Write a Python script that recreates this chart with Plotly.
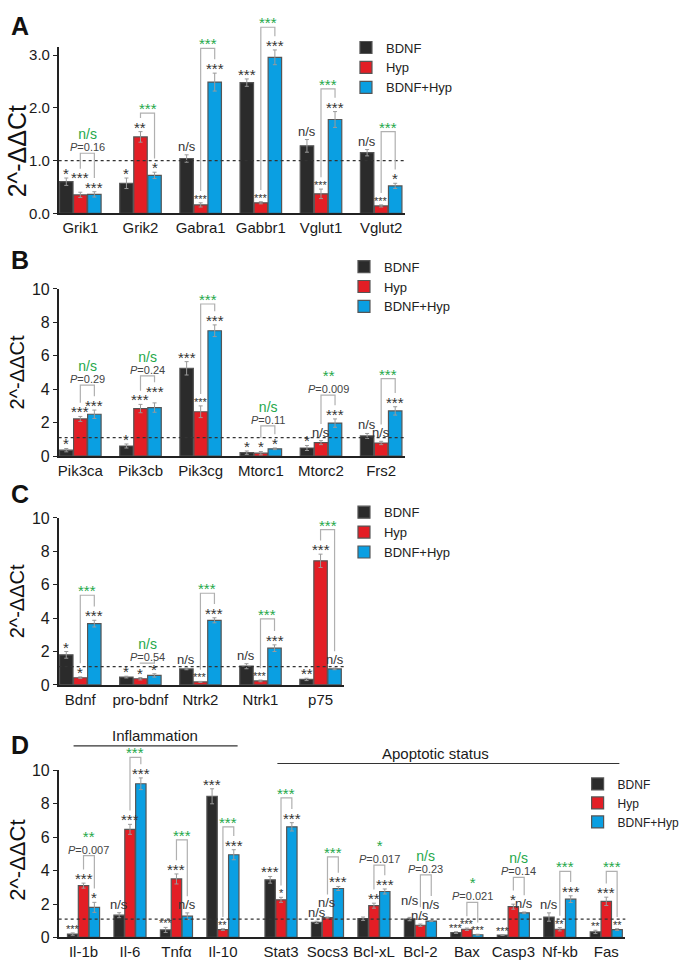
import plotly.graph_objects as go

W, H = 685, 970

# ---------------- data ----------------
series = ['BDNF', 'Hyp', 'BDNF+Hyp']

# A
genes_a = ['Grik1', 'Grik2', 'Gabra1', 'Gabbr1', 'Vglut1', 'Vglut2']
bdnf_a = [0.60, 0.57, 1.04, 2.48, 1.28, 1.15]
hyp_a = [0.35, 1.45, 0.16, 0.20, 0.37, 0.14]
both_a = [0.36, 0.72, 2.49, 2.96, 1.78, 0.52]
bdnf_a_err = [0.07, 0.10, 0.07, 0.07, 0.12, 0.06]
hyp_a_err = [0.05, 0.10, 0.04, 0.02, 0.09, 0.02]
both_a_err = [0.05, 0.06, 0.17, 0.14, 0.15, 0.05]
stars_a = [['*', '***', '***'], ['*', '**', '*'], ['n/s', '~***', '***'],
           ['***', '~***', '***'], ['n/s', '~***', '***'], ['n/s', '~***', '*']]
cmp_a = [('n/s', 'P=0.16'), ('***', ''), ('***', ''), ('***', ''), ('***', ''), ('***', '')]
bracket_a = [1.14, 1.90, 3.13, 3.53, 2.36, 1.55]

# B
genes_b = ['Pik3ca', 'Pik3cb', 'Pik3cg', 'Mtorc1', 'Mtorc2', 'Frs2']
bdnf_b = [0.35, 0.60, 5.25, 0.20, 0.48, 1.20]
hyp_b = [2.22, 2.84, 2.65, 0.17, 0.80, 0.78]
both_b = [2.50, 2.90, 7.50, 0.43, 1.97, 2.70]
bdnf_b_err = [0.10, 0.12, 0.40, 0.10, 0.15, 0.15]
hyp_b_err = [0.15, 0.25, 0.35, 0.10, 0.12, 0.10]
both_b_err = [0.25, 0.28, 0.35, 0.05, 0.25, 0.25]
stars_b = [['*', '***', '***'], ['*', '***', '***'], ['***', '~***', '***'],
           ['*', '*', '*'], ['*', 'n/s', '***'], ['n/s', 'n/s', '***']]
cmp_b = [('n/s', 'P=0.29'), ('n/s', 'P=0.24'), ('***', ''), ('n/s', 'P=0.11'),
         ('**', 'P=0.009'), ('***', '')]
bracket_b = [4.24, 4.80, 9.10, 1.80, 3.65, 4.63]

# C
genes_c = ['Bdnf', 'pro-bdnf', 'Ntrk2', 'Ntrk1', 'p75']
bdnf_c = [1.80, 0.47, 0.96, 1.12, 0.33]
hyp_c = [0.43, 0.37, 0.18, 0.24, 7.43]
both_c = [3.67, 0.57, 3.87, 2.20, 0.96]
bdnf_c_err = [0.20, 0.05, 0.05, 0.15, 0.07]
hyp_c_err = [0.05, 0.07, 0.03, 0.05, 0.40]
both_c_err = [0.20, 0.10, 0.15, 0.20, 0.05]
stars_c = [['*', '*', '***'], ['*', '*', '*'], ['n/s', '~***', '***'],
           ['n/s', '~***', '***'], ['**', '***', 'n/s']]
cmp_c = [('***', ''), ('n/s', 'P=0.54'), ('***', ''), ('***', ''), ('***', '')]
bracket_c = [5.37, 1.31, 5.49, 3.96, 9.30]

# D
genes_d = ['Il-1b', 'Il-6', 'Tnfα', 'Il-10', 'Stat3', 'Socs3', 'Bcl-xL', 'Bcl-2',
           'Bax', 'Casp3', 'Nf-kb', 'Fas']
bdnf_d = [0.20, 1.33, 0.45, 8.45, 3.45, 0.90, 1.12, 1.10, 0.29, 0.14, 1.22, 0.33]
hyp_d = [3.10, 6.47, 3.50, 0.47, 2.25, 1.19, 1.90, 0.73, 0.49, 1.84, 0.49, 2.16]
both_d = [1.80, 9.20, 1.27, 4.95, 6.62, 2.93, 2.75, 0.98, 0.16, 1.47, 2.29, 0.47]
bdnf_d_err = [0.07, 0.15, 0.15, 0.45, 0.20, 0.07, 0.10, 0.10, 0.05, 0.02, 0.25, 0.10]
hyp_d_err = [0.15, 0.30, 0.30, 0.05, 0.15, 0.03, 0.15, 0.07, 0.07, 0.15, 0.10, 0.25]
both_d_err = [0.30, 0.35, 0.20, 0.30, 0.25, 0.12, 0.15, 0.03, 0.03, 0.05, 0.20, 0.05]
stars_d = [['~***', '***', '*'], ['n/s', '***', '***'], ['~***', '***', 'n/s'],
           ['***', '~**', '***'], ['***', '~*', '***'], ['n/s', 'n/s', '***'],
           ['', '**', '***'], ['n/s', 'n/s', 'n/s'], ['~***', '~***', '~***'],
           ['~***', '*', 'n/s'], ['n/s', '~**', '***'], ['~**', '***', '~**']]
cmp_d = [('**', 'P=0.007'), ('***', ''), ('***', ''), ('***', ''), ('***', ''), ('***', ''),
         ('*', 'P=0.017'), ('n/s', 'P=0.23'), ('*', 'P=0.021'), ('n/s', 'P=0.14'),
         ('***', ''), ('***', '')]
bracket_d = [4.90, 10.78, 5.84, 6.62, 8.35, 4.82, 4.33, 3.75, 2.10, 3.59, 3.96, 3.96]

# ---------------- style ----------------
FONT = 'Liberation Sans, Arial, sans-serif'
COLORS = ['#2b2b2b', '#e31e25', '#0a9fe2']
GREEN = '#25a84b'
BARGAP = 0.3
SLOT = (1 - BARGAP) / 3

panels = [
    dict(letter='A', genes=genes_a, pos=list(range(6)),
         vals=[bdnf_a, hyp_a, both_a], errs=[bdnf_a_err, hyp_a_err, both_a_err],
         stars=stars_a, cmp=cmp_a, br=bracket_a,
         xpx=(58, 406), xr=(-0.36, 5.39), ypx=(209, 40), ymax=3.15,
         ticks=[0, 1, 2, 3], fmt='.1f', ref=1.0, tick_size=15,
         title_y=146, title_size=25, letter_y=18, lift={(0, 1): 10},
         legend=dict(x=347 / W, y=1 - 25 / H), legend_size=13),
    dict(letter='B', genes=genes_b, pos=list(range(6)),
         vals=[bdnf_b, hyp_b, both_b], errs=[bdnf_b_err, hyp_b_err, both_b_err],
         stars=stars_b, cmp=cmp_b, br=bracket_b,
         xpx=(58, 406), xr=(-0.36, 5.39), ypx=(456, 286), ymax=10,
         ticks=[0, 2, 4, 6, 8, 10], fmt='d', ref=1.1, tick_size=16,
         title_y=371, title_size=20, letter_y=257, lift={(1, 2): 7},
         legend=dict(x=345 / W, y=1 - 248 / H), legend_size=13),
    dict(letter='C', genes=genes_c, pos=list(range(5)),
         vals=[bdnf_c, hyp_c, both_c], errs=[bdnf_c_err, hyp_c_err, both_c_err],
         stars=stars_c, cmp=cmp_c, br=bracket_c,
         xpx=(58, 345), xr=(-0.36, 4.39), ypx=(689, 519), ymax=10,
         ticks=[0, 2, 4, 6, 8, 10], fmt='d', ref=1.1, tick_size=16,
         title_y=604, title_size=20, letter_y=495,
         legend=dict(x=345 / W, y=1 - 498 / H), legend_size=13),
    dict(letter='D', genes=genes_d, pos=[i + (0.25 if i >= 4 else 0) for i in range(12)],
         vals=[bdnf_d, hyp_d, both_d], errs=[bdnf_d_err, hyp_d_err, both_d_err],
         stars=stars_d, cmp=cmp_d, br=bracket_d,
         xpx=(58, 628), xr=(-0.535, 11.66), ypx=(946, 776), ymax=10,
         ticks=[0, 2, 4, 6, 8, 10], fmt='d', ref=1.1, tick_size=16,
         title_y=867, title_size=22, letter_y=750,
         lift={(7, 0): 8, (7, 2): 8, (5, 1): 6},
         legend=dict(x=580 / W, y=1 - 775 / H), legend_size=12),
]


def paper(p, x, y):
    (xa0, xa1), (r0, r1) = p['xpx'], p['xr']
    yb, yt = p['ypx']
    xp = xa0 + (x - r0) / (r1 - r0) * (xa1 - xa0)
    yp = yb - y / p['ymax'] * (yb - yt)
    return xp / W, 1 - yp / H


def label_style(txt):
    # text, font size, yshift, px from bar top to top of label
    if txt.startswith('~'):
        return txt[1:], 11, -4, 10
    if txt == 'n/s':
        return txt, 13, -1, 15
    return txt, 15, -6, 12


def note(x, y, text, size, color, **kw):
    d = dict(x=x, y=y, xref='paper', yref='paper', text=text, showarrow=False,
             xanchor='center', yanchor='middle',
             font=dict(size=size, color=color, family=FONT))
    d.update(kw)
    return d


fig = go.Figure()
annotations = []
shapes = []
layout = {}

for i, p in enumerate(panels):
    n = '' if i == 0 else str(i + 1)
    leg = 'legend' + n
    for k, name in enumerate(series):
        fig.add_trace(go.Bar(
            x=p['pos'], y=p['vals'][k], name=name,
            xaxis='x' + n, yaxis='y' + n, legend=leg,
            marker=dict(color=COLORS[k], line=dict(color='#555555', width=1.2)),
            error_y=dict(type='data', array=p['errs'][k], color='#9a9a9a',
                         thickness=1, width=2),
        ))

    layout['xaxis' + n] = dict(
        domain=[p['xpx'][0] / W, p['xpx'][1] / W], range=list(p['xr']),
        anchor='y' + n, tickvals=p['pos'], ticktext=p['genes'], ticks='',
        showline=True, linecolor='#222222', linewidth=1.5, showgrid=False,
        zeroline=False, tickfont=dict(size=15, color='#1a1a1a', family=FONT),
    )
    layout['yaxis' + n] = dict(
        domain=[1 - p['ypx'][0] / H, 1 - p['ypx'][1] / H], range=[0, p['ymax']],
        anchor='x' + n, tickvals=p['ticks'], tickformat=p['fmt'], ticks='outside',
        ticklen=4, tickwidth=1.2, tickcolor='#222222',
        showline=True, linecolor='#222222', linewidth=1.5, showgrid=False,
        zeroline=False, tickfont=dict(size=p['tick_size'], color='#1a1a1a', family=FONT),
    )
    layout[leg] = dict(
        x=p['legend']['x'], y=p['legend']['y'], xanchor='left',
        yanchor='top', bgcolor='rgba(0,0,0,0)', tracegroupgap=0,
        font=dict(size=p['legend_size'], color='#222222', family=FONT),
    )

    # dotted reference line
    y_ref = paper(p, 0, p['ref'])[1]
    shapes.append(dict(type='line', xref='paper', yref='paper',
                       x0=p['xpx'][0] / W, x1=p['xpx'][1] / W, y0=y_ref, y1=y_ref,
                       line=dict(color='#333333', width=1.2, dash='dot')))

    # y title and panel letter
    annotations.append(note(17 / W, 1 - p['title_y'] / H, '2^-ΔΔCt', p['title_size'],
                            '#111111', textangle=-90))
    annotations.append(note(8 / W, 1 - p['letter_y'] / H, '<b>%s</b>' % p['letter'], 25,
                            '#111111', xanchor='left'))

    lift = p.get('lift', {})
    for j, xpos in enumerate(p['pos']):
        leg_bottom = []
        for k in range(3):
            top = p['vals'][k][j] + p['errs'][k][j]
            cx = xpos + (k - 1) * SLOT
            ax, ay = paper(p, cx, top)
            lab = p['stars'][j][k]
            extra = lift.get((j, k), 0)
            if lab:
                txt, size, shift, gap = label_style(lab)
                annotations.append(note(ax, ay, txt, size, '#333333',
                                        yanchor='bottom', yshift=shift + extra))
                leg_bottom.append(ay + (gap + extra + 2) / H)
            else:
                leg_bottom.append(ay + 4 / H)

        # Hyp vs BDNF+Hyp bracket
        xl, _ = paper(p, xpos, 0)
        xr_, _ = paper(p, xpos + SLOT, 0)
        yb = paper(p, 0, p['br'][j])[1]
        shapes.append(dict(type='path', xref='paper', yref='paper',
                           path='M %f %f L %f %f L %f %f L %f %f' % (
                               xl, leg_bottom[1], xl, yb, xr_, yb, xr_, leg_bottom[2]),
                           line=dict(color='#b0b0b0', width=1.2)))
        sig, pval = p['cmp'][j]
        xm = (xl + xr_) / 2
        sig_size = 14 if sig == 'n/s' else 15
        if pval:
            txt = ("<span style='font-size:%dpx;color:%s'>%s</span><br>"
                   "<span style='font-size:11px;color:#444444'><i>P</i>%s</span>"
                   % (sig_size, GREEN, sig, pval[1:]))
            annotations.append(note(xm, yb, txt, 9, '#444444',
                                    yanchor='bottom', yshift=-2))
        else:
            annotations.append(note(xm, yb, sig, sig_size, GREEN,
                                    yanchor='bottom', yshift=-6))

# group headers in panel D
annotations.append(note(155 / W, 1 - 751 / H, 'Inflammation', 15, '#1a1a1a',
                        yanchor='bottom'))
shapes.append(dict(type='line', xref='paper', yref='paper', x0=73 / W, x1=238 / W,
                   y0=1 - 751 / H, y1=1 - 751 / H, line=dict(color='#333333', width=1.2)))
annotations.append(note(437 / W, 1 - 769 / H, 'Apoptotic status', 15, '#1a1a1a',
                        yanchor='bottom'))
shapes.append(dict(type='line', xref='paper', yref='paper', x0=278 / W, x1=622 / W,
                   y0=1 - 769 / H, y1=1 - 769 / H, line=dict(color='#333333', width=1.2)))

fig.update_layout(
    width=W, height=H,
    margin=dict(l=0, r=0, t=0, b=0),
    paper_bgcolor='white', plot_bgcolor='white',
    barmode='group', bargap=BARGAP, bargroupgap=0.04,
    font=dict(family=FONT, color='#222222'),
    annotations=annotations, shapes=shapes,
    **layout,
)

# the page body has a default 8px margin; drop it so the figure fills the window
fig.write_html('out.html', config={'displayModeBar': False},
               post_script="document.body.style.margin = '0px';")
